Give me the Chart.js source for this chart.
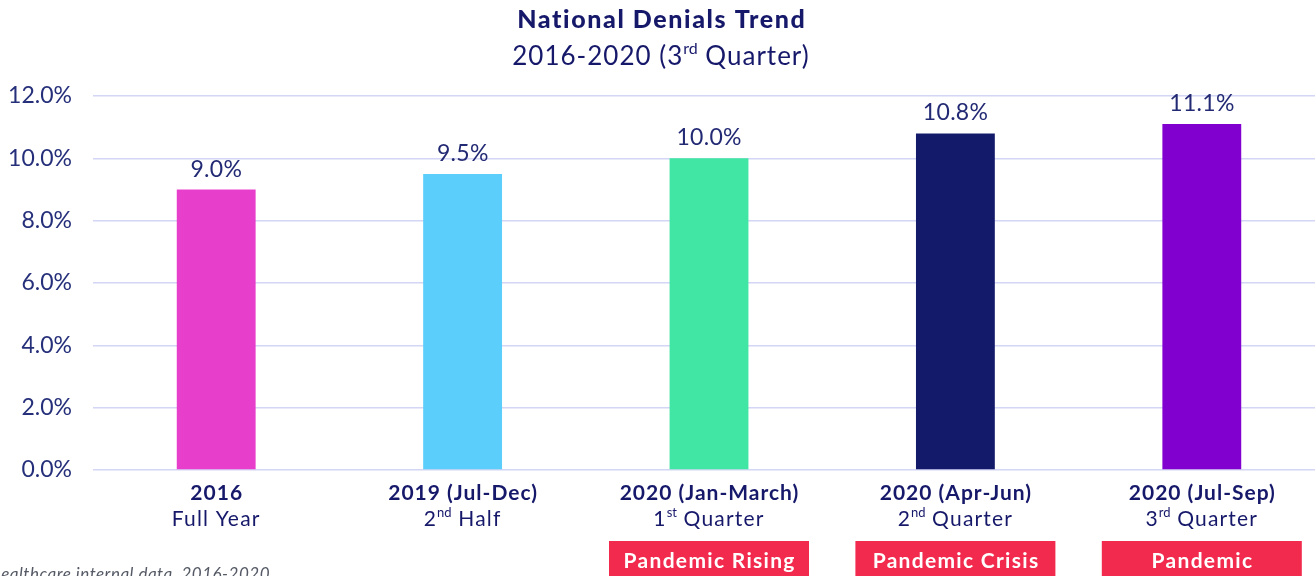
<!DOCTYPE html>
<html><head><meta charset="utf-8">
<script src="https://cdn.jsdelivr.net/npm/chart.js@4/dist/chart.umd.min.js"></script>
<style>html,body{margin:0;padding:0;overflow:hidden;background:#fff}canvas{display:block}</style>
</head><body>
<div style="width:1328px;height:576px"><canvas id="c" width="1328" height="576"></canvas></div>
<script>
const categories = ["2016", "2019 (Jul-Dec)", "2020 (Jan-March)", "2020 (Apr-Jun)", "2020 (Jul-Sep)"];
const subLabels = [[["Full Year", false]], [["2", false], ["nd", true], [" Half", false]], [["1", false], ["st", true], [" Quarter", false]], [["2", false], ["nd", true], [" Quarter", false]], [["3", false], ["rd", true], [" Quarter", false]]];
const denialRates = [9.0, 9.5, 10.0, 10.8, 11.1];
const barColors = ["#e83ecc", "#5bcefc", "#41e6a4", "#141a6a", "#8200cf"];
const phaseTags = [null, null, "Pandemic Rising", "Pandemic Crisis", "Pandemic"];
const yTicks = [0, 2, 4, 6, 8, 10, 12];
const titleText = "National Denials Trend";
const subtitleParts = [["2016-2020 (3", false], ["rd", true], [" Quarter)", false]];
const footnote = "healthcare internal data, 2016-2020";

const FONT = "Lato, 'Open Sans', sans-serif";
const NAVY = "#16186a";

function drawRich(ctx, parts, cx, cy, size, weight, spacing) {
  let total = 0;
  const supSize = Math.round(size * 0.6);
  parts.forEach(p => {
    ctx.font = `${weight} ${p[1] ? supSize : size}px ${FONT}`;
    ctx.letterSpacing = (p[1] ? 0 : spacing) + 'px';
    p.w = ctx.measureText(p[0]).width;
    total += p.w;
  });
  let x = cx - total / 2;
  ctx.textAlign = 'left';
  ctx.textBaseline = 'middle';
  parts.forEach(p => {
    ctx.font = `${weight} ${p[1] ? supSize : size}px ${FONT}`;
    ctx.letterSpacing = (p[1] ? 0 : spacing) + 'px';
    ctx.fillText(p[0], x, p[1] ? cy - size * 0.3 : cy);
    x += p.w;
  });
  ctx.letterSpacing = '0px';
}

function centerText(ctx, text, x, y, spacing) {
  ctx.letterSpacing = spacing + 'px';
  ctx.textAlign = 'center';
  ctx.fillText(text, x + spacing / 2, y);
  ctx.letterSpacing = '0px';
}

const decor = {
  id: 'decor',
  afterDatasetsDraw(chart) {
    const ctx = chart.ctx;
    const meta = chart.getDatasetMeta(0);
    const xs = chart.scales.x;
    ctx.save();
    ctx.fillStyle = '#232a74';
    ctx.textBaseline = 'alphabetic';
    ctx.font = `400 23px ${FONT}`;
    meta.data.forEach((bar, i) => {
      centerText(ctx, denialRates[i].toFixed(1) + '%', bar.x, bar.y - 13, 0.3);
    });
    // title
    ctx.fillStyle = NAVY;
    ctx.font = `900 25px ${FONT}`;
    ctx.textBaseline = 'middle';
    centerText(ctx, titleText, 661, 20, 1.6);
    drawRich(ctx, subtitleParts.map(p => p.slice()), 661, 57, 26, 400, 1);
    // x labels
    categories.forEach((c, i) => {
      const x = xs.getPixelForValue(i);
      ctx.fillStyle = NAVY;
      ctx.textBaseline = 'middle';
      ctx.font = `700 21px ${FONT}`;
      centerText(ctx, c, x, 493, 1);
      drawRich(ctx, subLabels[i].map(p => p.slice()), x, 519, 21, 400, 1.2);
      if (phaseTags[i]) {
        ctx.fillStyle = '#f22a4e';
        ctx.fillRect(x - 100, 541, 200, 40);
        ctx.fillStyle = '#ffffff';
        ctx.font = `700 21px ${FONT}`;
        centerText(ctx, phaseTags[i], x, 561, 1.3);
      }
    });
    // footnote
    ctx.fillStyle = '#555a66';
    ctx.textAlign = 'right';
    ctx.textBaseline = 'top';
    ctx.font = `italic 400 17px ${FONT}`;
    ctx.letterSpacing = '0.5px';
    ctx.fillText(footnote, 270, 566);
    ctx.letterSpacing = '0px';
    ctx.restore();
  }
};

new Chart(document.getElementById('c'), {
  type: 'bar',
  data: {
    labels: categories,
    datasets: [{
      data: denialRates,
      backgroundColor: barColors,
      borderWidth: 0,
      barPercentage: 0.32,
      categoryPercentage: 1.0
    }]
  },
  options: {
    responsive: false,
    animation: false,
    devicePixelRatio: 1,
    layout: { padding: { top: 96, bottom: 106, left: 0, right: 3 } },
    plugins: { legend: { display: false }, title: { display: false }, tooltip: { enabled: false } },
    scales: {
      x: { display: false },
      y: {
        min: 0, max: 12,
        afterBuildTicks(s) { s.ticks = yTicks.map(v => ({ value: v })); },
        afterFit(s) { s.width = 93; },
        border: { display: false },
        grid: { color: '#d3d6f4', lineWidth: 1.5, drawTicks: false },
        ticks: {
          padding: 21,
          color: '#26307a',
          font: { family: FONT, size: 23 },
          callback: v => v.toFixed(1) + '%'
        }
      }
    }
  },
  plugins: [decor]
});
</script>
</body></html>
